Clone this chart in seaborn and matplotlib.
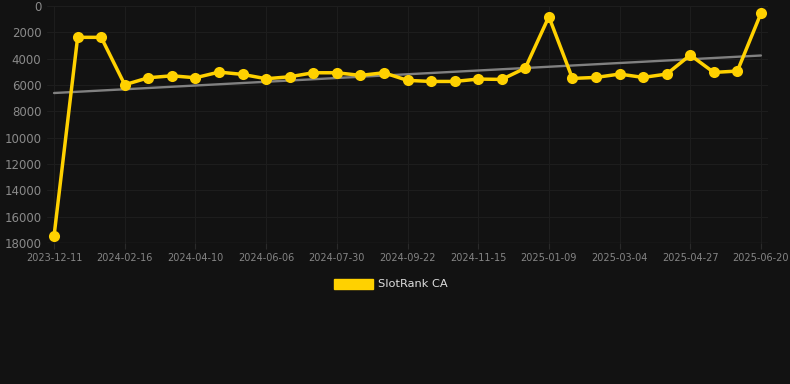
import numpy as np
import pandas as pd
import seaborn as sns
import matplotlib
matplotlib.use('Agg')
import matplotlib.pyplot as plt
from matplotlib.patches import Patch

# data
dates = ['2023-12-11', '2024-01-03', '2024-01-25', '2024-02-16', '2024-03-05', '2024-03-23',
         '2024-04-10', '2024-04-29', '2024-05-18', '2024-06-06', '2024-06-24', '2024-07-12',
         '2024-07-30', '2024-08-17', '2024-09-04', '2024-09-22', '2024-10-10', '2024-10-28',
         '2024-11-15', '2024-12-03', '2024-12-21', '2025-01-09', '2025-01-27', '2025-02-14',
         '2025-03-04', '2025-03-22', '2025-04-09', '2025-04-27', '2025-05-15', '2025-06-02',
         '2025-06-20']
rank_ca = [17450, 2380, 2380, 5980, 5450, 5300, 5450, 5020, 5195, 5525, 5375, 5070,
           5070, 5270, 5070, 5650, 5730, 5730, 5550, 5575, 4715, 810, 5500, 5425,
           5170, 5425, 5170, 3725, 5045, 4940, 555]
y_ticks = [0, 2000, 4000, 6000, 8000, 10000, 12000, 14000, 16000, 18000]

df = pd.DataFrame({'Date': dates, 'Rank': rank_ca})
df['idx'] = np.arange(len(df))

bg = '#121212'
gold = '#FFD100'

sns.set_style('dark')
fig = plt.figure(figsize=(7.9, 3.84), dpi=100, facecolor=bg)
ax = fig.add_axes([47 / 790, 1 - 243 / 384, (768 - 47) / 790, (243 - 6) / 384])
ax.set_facecolor(bg)

# trend line (linear fit)
sns.regplot(x='idx', y='Rank', data=df, scatter=False, ci=None, ax=ax,
            line_kws={'color': '#808080', 'lw': 1.7, 'zorder': 2})

sns.lineplot(x='idx', y='Rank', data=df, ax=ax, color=gold, lw=2.5,
             marker='o', markersize=8, markeredgewidth=0, zorder=3)

ax.set_ylim(18000, 0)
ax.set_xlim(-0.3, 30.3)
ax.set_yticks(y_ticks)
ax.set_yticklabels([str(v) for v in y_ticks])
tick_idx = list(range(0, len(dates), 3))
ax.set_xticks(tick_idx)
ax.set_xticklabels([dates[i] for i in tick_idx])
ax.set_xlabel('')
ax.set_ylabel('')

ax.grid(True, color='#1d1d1d', lw=0.8)
for s in ax.spines.values():
    s.set_visible(False)
ax.axhline(18000, color='#2a2a2a', lw=1, zorder=1)
ax.tick_params(axis='y', colors='#8a8a8a', labelsize=8.5, length=0, pad=4)
ax.tick_params(axis='x', colors='#2a2a2a', labelsize=7, length=4, width=0.8,
               pad=3, bottom=True)
for t in ax.get_xticklabels():
    t.set_color('#858585')

handle = [Patch(facecolor=gold, edgecolor=gold)]
leg = fig.legend(handle, ['SlotRank CA'], loc='center', bbox_to_anchor=(0.495, 1 - 284 / 384),
                 frameon=False, fontsize=8.2, handlelength=3.4, handleheight=1.0,
                 handletextpad=0.5)
for t in leg.get_texts():
    t.set_color('#dddddd')

fig.savefig('out.png', dpi=100, facecolor=bg)
